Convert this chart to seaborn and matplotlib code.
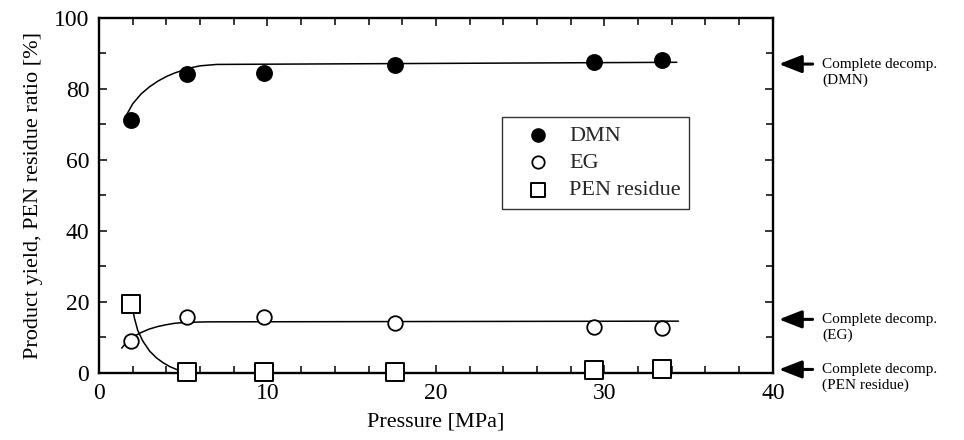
import seaborn as sns
import matplotlib.pyplot as plt
import matplotlib.transforms as mtransforms
from matplotlib.ticker import MultipleLocator

# measured points
pressure = [1.9, 5.2, 9.8, 17.6, 29.4, 33.4]
dmn = [71.3, 84.1, 84.4, 86.8, 87.7, 88.2]
eg = [9.0, 15.9, 15.9, 14.0, 13.0, 12.6]
pen = [19.4, 0.2, 0.2, 0.4, 0.85, 1.1]

# hand-drawn trend curves
dmn_fit_x = [1.65, 2.0, 2.5, 3.0, 3.5, 4.0, 4.5, 5.0, 5.5, 6.0, 7.0, 34.3]
dmn_fit_y = [72.8, 75.8, 78.6, 80.6, 82.2, 83.5, 84.5, 85.3, 86.0, 86.5, 86.9, 87.5]
eg_fit_x = [1.35, 1.65, 2.0, 2.5, 3.0, 3.5, 4.0, 4.5, 5.0, 5.5, 6.5, 34.4]
eg_fit_y = [7.0, 8.8, 10.1, 11.4, 12.4, 13.1, 13.6, 14.0, 14.2, 14.3, 14.4, 14.6]
pen_fit_x = [1.9, 2.1, 2.3, 2.6, 3.0, 3.4, 3.8, 4.2, 4.6, 5.0]
pen_fit_y = [20.5, 15.5, 12.0, 9.0, 6.2, 4.3, 2.9, 1.8, 1.0, 0.4]

# complete decomposition levels (arrows on the right)
complete_labels = ['(DMN)', '(EG)', '(PEN residue)']
complete_levels = [87.0, 15.1, 1.0]

sns.set_theme(style='ticks')
plt.rcParams['font.family'] = ['Liberation Serif', 'DejaVu Serif']

fig = plt.figure(figsize=(9.64, 4.4), dpi=100)
ax = fig.add_axes([0.1027, 0.1523, 0.699, 0.807])

for xs, ys in [(dmn_fit_x, dmn_fit_y), (eg_fit_x, eg_fit_y), (pen_fit_x, pen_fit_y)]:
    sns.lineplot(x=xs, y=ys, sort=False, estimator=None, color='black',
                 linewidth=1.1, ax=ax, zorder=2)

sns.scatterplot(x=pressure, y=dmn, marker='o', s=120, color='black',
                edgecolor='black', linewidth=1.2, label='DMN', ax=ax,
                zorder=4, clip_on=False)
sns.scatterplot(x=pressure, y=eg, marker='o', s=110, color='white',
                edgecolor='black', linewidth=1.3, label='EG', ax=ax,
                zorder=4, clip_on=False)
sns.scatterplot(x=pressure, y=pen, marker='s', s=150, color='white',
                edgecolor='black', linewidth=1.4, label='PEN residue', ax=ax,
                zorder=5, clip_on=False)

ax.set_xlim(0, 40)
ax.set_ylim(0, 100)
ax.xaxis.set_major_locator(MultipleLocator(10))
ax.xaxis.set_minor_locator(MultipleLocator(2))
ax.yaxis.set_major_locator(MultipleLocator(20))
ax.yaxis.set_minor_locator(MultipleLocator(10))
ax.tick_params(which='both', direction='in', top=True, right=True,
               color='black', width=1.1, labelsize=17, labelcolor='black')
ax.tick_params(which='major', length=6)
ax.tick_params(which='minor', length=5)
ax.tick_params(axis='x', pad=7)
ax.tick_params(axis='y', pad=7)
for side in ['left', 'bottom', 'top', 'right']:
    ax.spines[side].set_linewidth(1.7)
    ax.spines[side].set_color('black')

ax.set_xlabel('Pressure [MPa]', fontsize=16, color='black', labelpad=6)
ax.set_ylabel('Product yield, PEN residue ratio [%]', fontsize=16,
              color='black', labelpad=8)

leg = ax.legend(loc='upper left', bbox_to_anchor=(0.598, 0.721),
                borderaxespad=0, frameon=True, fancybox=False, fontsize=16,
                handletextpad=0.15, labelspacing=0.3, borderpad=0.38,
                handlelength=2.5, markerscale=0.85)
leg.get_frame().set_edgecolor('black')
leg.get_frame().set_linewidth(1.0)

trans = mtransforms.blended_transform_factory(ax.transAxes, ax.transData)
for lab, lvl in zip(complete_labels, complete_levels):
    ax.annotate('', xy=(1.009, lvl), xycoords=trans,
                xytext=(1.059, lvl), textcoords=trans,
                arrowprops=dict(arrowstyle='-|>,head_length=1.15,head_width=0.45',
                                color='black', lw=2.2, shrinkA=0, shrinkB=0),
                annotation_clip=False)
    ax.text(1.073, lvl, 'Complete decomp.', transform=trans, fontsize=11,
            va='center', ha='left', color='black', clip_on=False)
    ax.annotate(lab, xy=(1.073, lvl), xycoords=trans, xytext=(0, -11.5),
                textcoords='offset points', fontsize=11, va='center',
                ha='left', color='black', annotation_clip=False)

fig.savefig('out.png', dpi=100)
